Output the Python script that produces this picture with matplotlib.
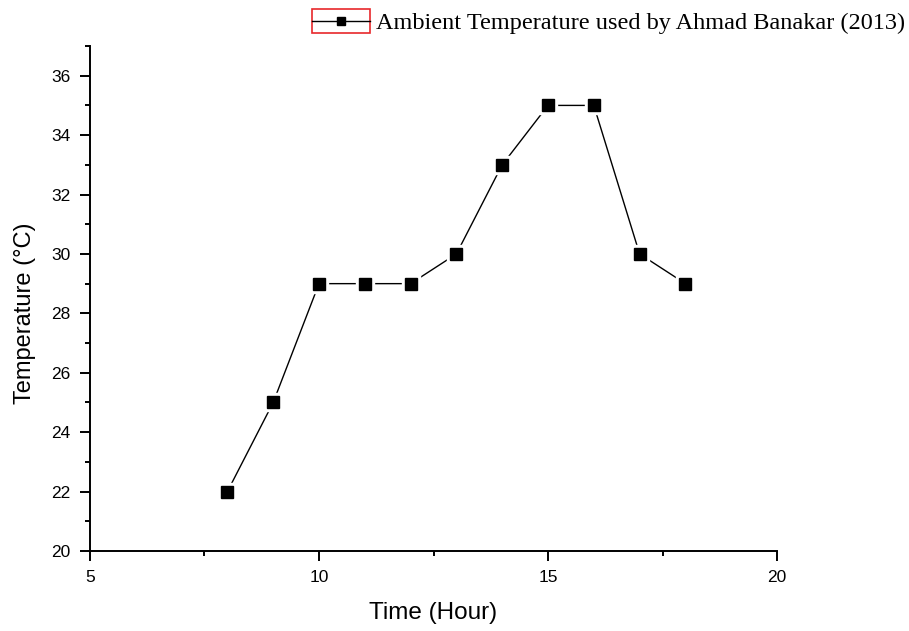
import numpy as np
import matplotlib
matplotlib.use("Agg")
import matplotlib.pyplot as plt
from matplotlib.patches import Rectangle
from matplotlib.ticker import MultipleLocator

# dados
horas = [8, 9, 10, 11, 12, 13, 14, 15, 16, 17, 18]
temperatura = [22, 25, 29, 29, 29, 30, 33, 35, 35, 30, 29]
legenda = "Ambient Temperature used by Ahmad Banakar (2013)"

plt.rcParams['font.family'] = 'Liberation Sans'

fig = plt.figure(figsize=(9.09, 6.31), dpi=100)
ax = fig.add_axes([0.099, 0.1268, 0.7558, 0.8003])

# linha com pequenos espacos em volta dos marcadores (estilo Origin)
ax.plot(horas, temperatura, color='black', lw=1.0, zorder=2)
ax.plot(horas, temperatura, ls='none', marker='s', ms=12.5, color='white', zorder=3)
ax.plot(horas, temperatura, ls='none', marker='s', ms=8.6, color='black', zorder=4)

ax.set_xlim(5, 20)
ax.set_ylim(20, 37)
ax.xaxis.set_major_locator(MultipleLocator(5))
ax.xaxis.set_minor_locator(MultipleLocator(2.5))
ax.yaxis.set_major_locator(MultipleLocator(2))
ax.yaxis.set_minor_locator(MultipleLocator(1))

for lado in ['top', 'right']:
    ax.spines[lado].set_visible(False)
for lado in ['left', 'bottom']:
    ax.spines[lado].set_linewidth(1.4)

ax.tick_params(which='major', direction='out', length=7, width=1.4, labelsize=12.5, pad=7)
ax.tick_params(which='minor', direction='out', length=3.5, width=1.4)

ax.set_xlabel('Time (Hour)', fontsize=17.5, labelpad=12)
ax.set_ylabel('Temperature (°C)', fontsize=17)
ax.yaxis.set_label_coords(-0.079, 0.471)

# legenda no topo
h = ax.plot([], [], color='black', lw=1.0, marker='s', ms=6, label=legenda)[0]
leg = fig.legend(handles=[h], loc='upper left', bbox_to_anchor=(312 / 909, 1 - 12 / 631),
                 frameon=False, borderpad=0, borderaxespad=0, handlelength=2.4,
                 handletextpad=0.22, prop={'family': 'Liberation Serif', 'size': 17.5})
fig.add_artist(Rectangle((312 / 909, 1 - 33 / 631), 58 / 909, 24 / 631,
                         transform=fig.transFigure, fill=False, edgecolor='#e8282b', lw=1.2))

fig.savefig('out.png', dpi=100)
